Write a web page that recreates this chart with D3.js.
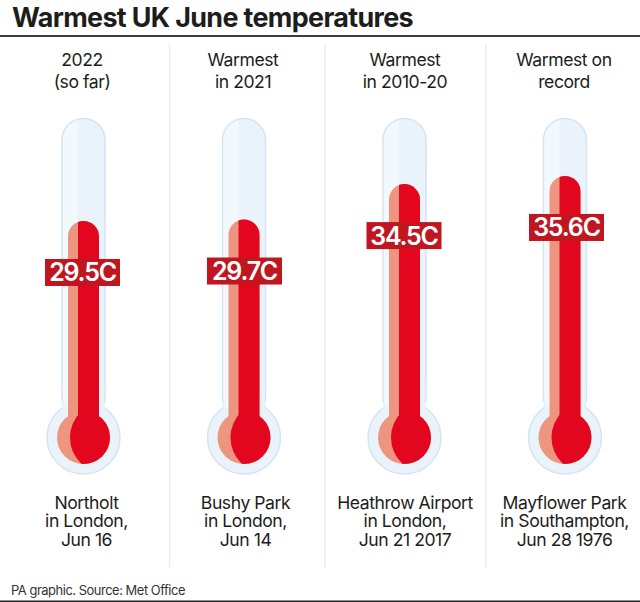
<!DOCTYPE html>
<html>
<head>
<meta charset="utf-8">
<script src="https://cdn.jsdelivr.net/npm/d3@7"></script>
<style>
html, body { margin: 0; padding: 0; background: #fff; }
text { font-family: Inter, "Liberation Sans", sans-serif; fill: #1d1d1b; }
</style>
</head>
<body>
<svg id="chart" width="640" height="602"></svg>
<script>
var headings = [['2022', '(so far)'], ['Warmest', 'in 2021'], ['Warmest', 'in 2010-20'], ['Warmest on', 'record']];
var temps = [29.5, 29.7, 34.5, 35.6];
var places = [
    ['Northolt', 'in London,', 'Jun 16'],
    ['Bushy Park', 'in London,', 'Jun 14'],
    ['Heathrow Airport', 'in London,', 'Jun 21 2017'],
    ['Mayflower Park', 'in Southampton,', 'Jun 28 1976']
];
var columns = [0, 1, 2, 3];

var svg = d3.select('#chart');
var x = d3.scalePoint().domain(columns).range([83.5, 565]);
var y = d3.scaleLinear().domain([0, 40]).range([438.7, 143.5]);
var defs = svg.append('defs');

// the labels do not sit quite centred on the tubes in the original
var headShift = [-1.5, -1, 0.5, -1];
var placeShift = [3, 1.5, 0.5, -0.5];
var tagShift = [-38.5, -37, -38, -36];

svg.append('text').attr('x', 12).attr('y', 26.5)
    .style('font-size', '26.9px').style('font-weight', 700).style('letter-spacing', '-0.65px')
    .text('Warmest UK June temperatures');
svg.append('rect').attr('x', 0).attr('y', 35).attr('width', 640).attr('height', 2).attr('fill', '#3c3c3c');
svg.append('rect').attr('x', 0).attr('y', 600.5).attr('width', 640).attr('height', 1.5).attr('fill', '#222');
svg.append('text').attr('x', 11).attr('y', 595)
    .style('font-size', '12.9px').style('letter-spacing', '-0.45px').style('fill', '#333')
    .text('PA graphic. Source: Met Office');

svg.selectAll('line.divider').data([169.5, 325, 486]).enter().append('line')
    .attr('class', 'divider')
    .attr('x1', function(d) { return d; }).attr('x2', function(d) { return d; })
    .attr('y1', 44).attr('y2', 568)
    .attr('stroke', '#e4eff7').attr('stroke-width', 1.5);

var g = svg.selectAll('g.thermo').data(columns).enter().append('g')
    .attr('class', 'thermo')
    .attr('transform', function(d) { return 'translate(' + x(d) + ',0)'; });

// glass outline: tube plus bulb as one shape
g.append('circle').attr('cx', 0).attr('cy', 437.5).attr('r', 36.5)
    .attr('fill', '#eaf3fa').attr('stroke', '#d3e5f2').attr('stroke-width', 1.5);
g.append('rect').attr('x', -21.5).attr('y', 118.5).attr('width', 43).attr('height', 300).attr('rx', 21.5)
    .attr('fill', '#eaf3fa').attr('stroke', '#d3e5f2').attr('stroke-width', 1.5);
g.append('rect').attr('x', -20.7).attr('y', 380).attr('width', 41.4).attr('height', 60).attr('fill', '#eaf3fa');

// paler left side of the glass
defs.selectAll('clipPath.glass').data(columns).enter().append('clipPath')
    .attr('class', 'glass').attr('id', function(d) { return 'glass' + d; })
    .append('rect').attr('x', -20.7).attr('y', 119.3).attr('width', 41.4).attr('height', 298).attr('rx', 20.7);
g.append('rect').attr('x', -21).attr('y', 118).attr('width', 15.5).attr('height', 300).attr('fill', '#f3f8fc')
    .attr('clip-path', function(d) { return 'url(#glass' + d + ')'; });

// mercury column, pale side first then the dark part clipped over it
function column(d) {
    var top = y(temps[d]);
    return 'M-15.5,437V' + (top + 15.5) + 'A15.5,15.5 0 0 1 15.5,' + (top + 15.5) + 'V437Z';
}
g.append('path').attr('d', column).attr('fill', '#ee9580');
g.append('circle').attr('cx', 0).attr('cy', 437.5).attr('r', 26.5).attr('fill', '#ee9580');

defs.selectAll('clipPath.col').data(columns).enter().append('clipPath')
    .attr('class', 'col').attr('id', function(d) { return 'col' + d; })
    .append('rect').attr('x', -5.5).attr('y', 100).attr('width', 40).attr('height', 340);
g.append('path').attr('d', column).attr('fill', '#e2071f')
    .attr('clip-path', function(d) { return 'url(#col' + d + ')'; });

defs.selectAll('clipPath.bulb').data(columns).enter().append('clipPath')
    .attr('class', 'bulb').attr('id', function(d) { return 'bulb' + d; })
    .append('circle').attr('cx', 0).attr('cy', 437.5).attr('r', 26.5);
g.append('circle').attr('cx', 22.5).attr('cy', 437.5).attr('r', 36).attr('fill', '#e2071f')
    .attr('clip-path', function(d) { return 'url(#bulb' + d + ')'; });

// value tags
g.append('rect').attr('width', 75).attr('height', 27)
    .attr('x', function(d) { return tagShift[d]; })
    .attr('y', function(d) { return y(temps[d]) + 38; })
    .attr('fill', '#c0161f');
g.append('text').attr('text-anchor', 'middle')
    .attr('x', function(d) { return tagShift[d] + 37.5; })
    .attr('y', function(d) { return y(temps[d]) + 60.5; })
    .style('font-size', '25px').style('font-weight', 600).style('letter-spacing', '-1.2px').style('fill', '#fff')
    .text(function(d) { return temps[d].toFixed(1) + 'C'; });

// multi-line labels as one text each, the leading is tight
function lines(selection, rows, cx, top, leading) {
    var t = selection.append('text').attr('text-anchor', 'middle')
        .style('font-size', '17.6px').style('letter-spacing', '-0.45px');
    rows.forEach(function(row, i) {
        t.append('tspan').attr('x', cx).attr('y', top + i * leading).text(row);
    });
}
g.each(function(d) {
    var col = d3.select(this);
    lines(col, headings[d], headShift[d], 66, 22);
    lines(col, places[d], placeShift[d], 509, 18.3);
});
</script>
</body>
</html>
